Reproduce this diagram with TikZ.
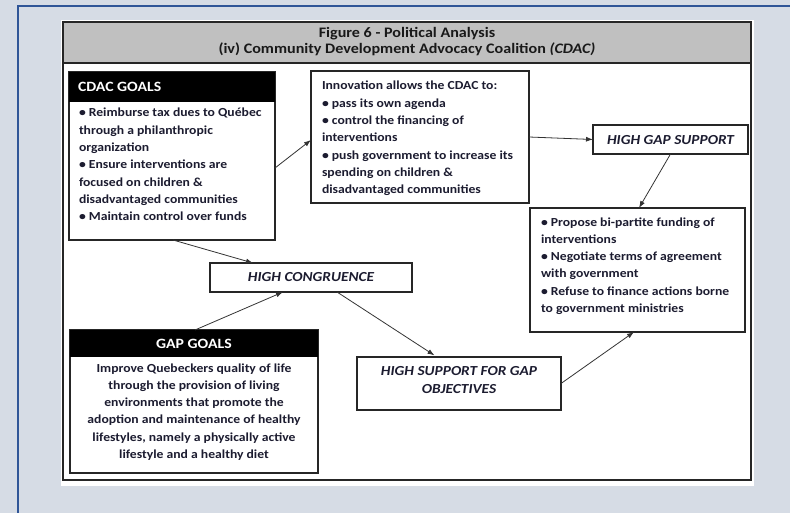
\documentclass[tikz,border=0pt]{standalone}
\usepackage{fontspec}
\setmainfont{Carlito}[FakeStretch=1.11]
\usetikzlibrary{arrows.meta}

\definecolor{pagebg}{HTML}{D6DCE5}
\definecolor{edgeblue}{HTML}{2F5597}
\definecolor{bandgray}{HTML}{C0C0C0}
\definecolor{ink}{HTML}{1C1C30}

% body font: bold Carlito with a fixed line pitch
\newcommand{\diagfont}{\fontsize{12.3}{17.3}\selectfont\bfseries}
% fixes the height of a first line so text blocks can be placed by their first baseline
\newcommand{\firstline}{\rule{0pt}{10.5pt}}

\begin{document}
\begin{tikzpicture}[x=1pt,y=-1pt,
  every node/.style={inner sep=0pt, outer sep=0pt, font=\diagfont, text=ink},
  frame/.style={draw=black!85, line width=1.1pt},
  box/.style={draw=black!85, line width=1.1pt, fill=white, anchor=north west},
  head/.style={fill=black, anchor=north west},
  headtext/.style={text=white, font=\fontsize{14.2}{16}\selectfont\bfseries},
  tagtext/.style={font=\fontsize{13.8}{17.5}\selectfont\bfseries\itshape},
  blocktext/.style={anchor=north west, align=left},
  conn/.style={draw=black!80, line width=0.8pt, -{Latex[length=7pt,width=5pt]}},
]

% page background and outer rules
\fill[pagebg] (0,0) rectangle (790,513);
\useasboundingbox (0,0) rectangle (790,513);
\draw[edgeblue, line width=2.5pt] (18,513) -- (18,6) -- (790,6);

% figure panel with its grey title band
\fill[white] (61,20) rectangle (754,486);
\fill[bandgray] (63,22) rectangle (751,63);
\draw[frame] (63,22) rectangle (751,480);
\draw[frame] (63,63) -- (751,63);
\node[align=center, text=black!90, font=\fontsize{14.5}{16.3}\selectfont\bfseries] (title) at (407,41.5)
  {Figure 6 - Political Analysis\\(iv) Community Development Advocacy Coalition \textit{(CDAC)}};

% CDAC goals
\node[box, minimum width=206pt, minimum height=168pt] (cdac) at (69,72) {};
\node[head, minimum width=206pt, minimum height=30pt] (cdachead) at (69,72) {};
\node[headtext, anchor=west] (cdaclabel) at (78,87) {CDAC GOALS};
\node[blocktext] (cdactext) at (79,106.5)
  {\firstline• Reimburse tax dues to Québec\\
   through a philanthropic\\
   organization\\
   • Ensure interventions are\\
   focused on children \&\\
   disadvantaged communities\\
   • Maintain control over funds};

% innovation box
\node[box, minimum width=218pt, minimum height=132pt] (innov) at (311,71) {};
\node[blocktext] (innovtext) at (322,79.5)
  {\firstline Innovation allows the CDAC to:\\
   • pass its own agenda\\
   • control the financing of\\
   interventions\\
   • push government to increase its\\
   spending on children \&\\
   disadvantaged communities};

% high GAP support
\node[box, minimum width=155pt, minimum height=29pt] (gapsup) at (593,125) {};
\node[tagtext] (gapsuptext) at (670.5,140) {HIGH GAP SUPPORT};

% resulting actions
\node[box, minimum width=215pt, minimum height=124pt] (actions) at (530,208) {};
\node[blocktext] (actionstext) at (541,215.5)
  {\firstline• Propose bi-partite funding of\\
   interventions\\
   • Negotiate terms of agreement\\
   with government\\
   • Refuse to finance actions borne\\
   to government ministries};

% high congruence
\node[box, minimum width=202pt, minimum height=29pt] (congr) at (210,263) {};
\node[tagtext] (congrtext) at (311,277.5) {HIGH CONGRUENCE};

% GAP goals
\node[box, minimum width=248pt, minimum height=143pt] (gapgoals) at (70,330) {};
\node[head, minimum width=248pt, minimum height=27pt] (gaphead) at (70,330) {};
\node[headtext] (gaplabel) at (194,344) {GAP GOALS};
\node[anchor=north, align=center] (gaptext) at (194,361.5)
  {\firstline Improve Quebeckers quality of life\\
   through the provision of living\\
   environments that promote the\\
   adoption and maintenance of healthy\\
   lifestyles, namely a physically active\\
   lifestyle and a healthy diet};

% high support for GAP objectives
\node[box, minimum width=204pt, minimum height=53pt] (hsup) at (357,357) {};
\node[tagtext, anchor=north, align=center] (hsuptext) at (459,365)
  {\firstline HIGH SUPPORT FOR GAP\\OBJECTIVES};

% connectors
\draw[conn] ([yshift=-12pt]cdac.east) -- ([yshift=-3pt]innov.west);
\draw[conn] (innov.east) -- (gapsup.west);
\draw[conn] (gapsup.south) -- ([xshift=1.5pt]actions.north);
\draw[conn] ([xshift=1pt]cdac.south) -- ([xshift=-58pt]congr.north);
\draw[conn] ([xshift=1pt]gapgoals.north) -- ([xshift=-28pt]congr.south);
\draw[conn, shorten >=3pt] ([xshift=26pt]congr.south) -- ([xshift=-22pt]hsup.north);
\draw[conn] (hsup.east) -- ([xshift=-3.5pt]actions.south);

\end{tikzpicture}
\end{document}
